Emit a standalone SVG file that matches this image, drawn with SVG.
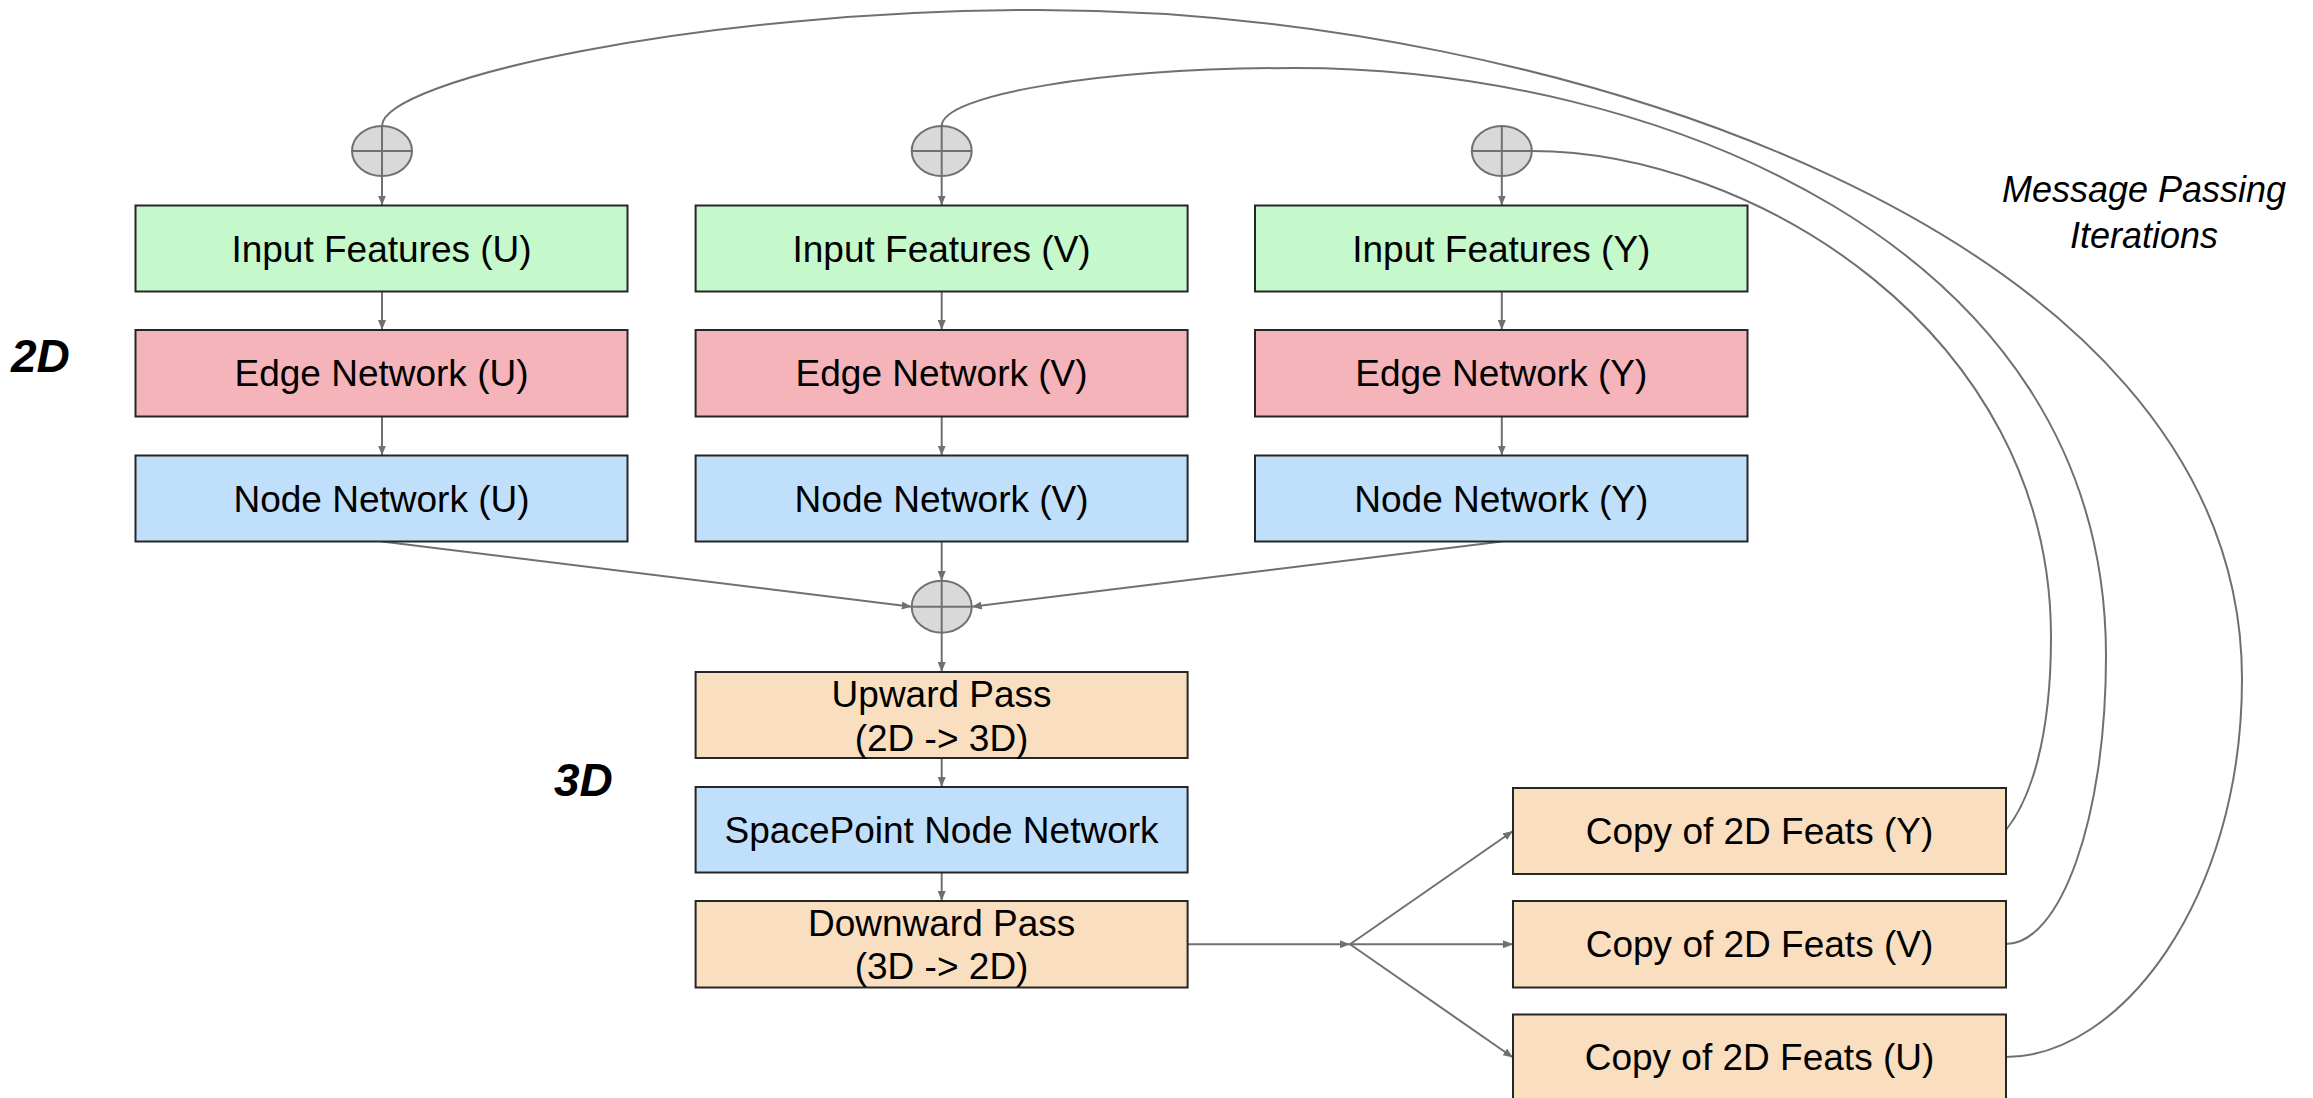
<svg xmlns="http://www.w3.org/2000/svg" width="2313" height="1098" viewBox="0 0 2313 1098">
  <style>
    .box { stroke: #262626; stroke-width: 2; }
    .in { fill: #c5f8cb; }
    .edge { fill: #f4b4b9; }
    .node { fill: #bfdffa; }
    .pass { fill: #f9dfbf; }
    .lbl { font-family: "Liberation Sans", Arial, sans-serif; font-size: 37px; fill: #000; text-anchor: middle; }
    .dim { font-family: "Liberation Sans", Arial, sans-serif; font-size: 46px; font-weight: bold; font-style: italic; fill: #000; }
    .note { font-family: "Liberation Sans", Arial, sans-serif; font-size: 36px; font-style: italic; fill: #000; text-anchor: middle; }
    .sum ellipse { fill: #d9d9d9; stroke: #707070; stroke-width: 2; }
    .sum line { stroke: #707070; stroke-width: 2; }
    .conn { fill: none; stroke: #707070; stroke-width: 2; }
  </style>
  <defs>
    <marker id="ah" viewBox="0 0 10 8" refX="10" refY="4" markerWidth="10" markerHeight="8" orient="auto" markerUnits="userSpaceOnUse">
      <path d="M0,0 L10,4 L0,8 z" fill="#707070"/>
    </marker>
  </defs>

  <rect width="2313" height="1098" fill="#ffffff"/>

  <!-- connectors -->
  <g id="connectors" class="conn">
    <!-- feedback loops from copies to the summation nodes -->
    <path d="M382,126 C382,80 700,10 1038,10 C1550,10 2242,230 2242,679 C2242,900 2120,1057 2006,1057"/>
    <path d="M941.7,126 C941.7,95 1100,68 1295,68 C1650,68 2106,240 2106,656 C2106,820 2060,944 2006,944"/>
    <path d="M1531.8,151 C1750,151 2051,330 2051,637 C2051,740 2030,800 2006,830"/>
    <!-- summation nodes into inputs -->
    <line x1="382" y1="176" x2="382" y2="205.5" marker-end="url(#ah)"/>
    <line x1="941.7" y1="176" x2="941.7" y2="205.5" marker-end="url(#ah)"/>
    <line x1="1501.8" y1="176" x2="1501.8" y2="205.5" marker-end="url(#ah)"/>
    <!-- per-view chains -->
    <line x1="382" y1="291.5" x2="382" y2="330" marker-end="url(#ah)"/>
    <line x1="941.7" y1="291.5" x2="941.7" y2="330" marker-end="url(#ah)"/>
    <line x1="1501.8" y1="291.5" x2="1501.8" y2="330" marker-end="url(#ah)"/>
    <line x1="382" y1="416.5" x2="382" y2="455.5" marker-end="url(#ah)"/>
    <line x1="941.7" y1="416.5" x2="941.7" y2="455.5" marker-end="url(#ah)"/>
    <line x1="1501.8" y1="416.5" x2="1501.8" y2="455.5" marker-end="url(#ah)"/>
    <!-- node networks into merge -->
    <line x1="382" y1="541.5" x2="911.7" y2="606.7" marker-end="url(#ah)"/>
    <line x1="941.7" y1="541.5" x2="941.7" y2="581" marker-end="url(#ah)"/>
    <line x1="1501.8" y1="541.5" x2="971.7" y2="606.7" marker-end="url(#ah)"/>
    <!-- 3D chain -->
    <line x1="941.7" y1="632.5" x2="941.7" y2="672" marker-end="url(#ah)"/>
    <line x1="941.7" y1="758" x2="941.7" y2="787" marker-end="url(#ah)"/>
    <line x1="941.7" y1="872.5" x2="941.7" y2="901" marker-end="url(#ah)"/>
    <!-- fan-out to copies -->
    <line x1="1187.6" y1="944.3" x2="1350" y2="944.3" marker-end="url(#ah)"/>
    <line x1="1350" y1="944.3" x2="1513" y2="831" marker-end="url(#ah)"/>
    <line x1="1350" y1="944.3" x2="1513" y2="944.3" marker-end="url(#ah)"/>
    <line x1="1350" y1="944.3" x2="1513" y2="1057.5" marker-end="url(#ah)"/>
  </g>

  <!-- summation nodes -->
  <g id="sum-u" class="sum">
    <ellipse cx="382" cy="151" rx="30" ry="25"/>
    <line x1="352" y1="151" x2="412" y2="151"/>
    <line x1="382" y1="126" x2="382" y2="176"/>
  </g>
  <g id="sum-v" class="sum">
    <ellipse cx="941.7" cy="151" rx="30" ry="25"/>
    <line x1="911.7" y1="151" x2="971.7" y2="151"/>
    <line x1="941.7" y1="126" x2="941.7" y2="176"/>
  </g>
  <g id="sum-y" class="sum">
    <ellipse cx="1501.8" cy="151" rx="30" ry="25"/>
    <line x1="1471.8" y1="151" x2="1531.8" y2="151"/>
    <line x1="1501.8" y1="126" x2="1501.8" y2="176"/>
  </g>
  <g id="sum-merge" class="sum">
    <ellipse cx="941.7" cy="606.7" rx="30" ry="26"/>
    <line x1="911.7" y1="606.7" x2="971.7" y2="606.7"/>
    <line x1="941.7" y1="580.7" x2="941.7" y2="632.7"/>
  </g>

  <!-- U column -->
  <g id="input-u"><rect class="box in" x="135.5" y="205.5" width="492" height="86"/><text class="lbl" x="381.5" y="261.5">Input Features (U)</text></g>
  <g id="edge-u"><rect class="box edge" x="135.5" y="330" width="492" height="86.5"/><text class="lbl" x="381.5" y="386">Edge Network (U)</text></g>
  <g id="node-u"><rect class="box node" x="135.5" y="455.5" width="492" height="86"/><text class="lbl" x="381.5" y="511.5">Node Network (U)</text></g>

  <!-- V column -->
  <g id="input-v"><rect class="box in" x="695.6" y="205.5" width="492" height="86"/><text class="lbl" x="941.6" y="261.5">Input Features (V)</text></g>
  <g id="edge-v"><rect class="box edge" x="695.6" y="330" width="492" height="86.5"/><text class="lbl" x="941.6" y="386">Edge Network (V)</text></g>
  <g id="node-v"><rect class="box node" x="695.6" y="455.5" width="492" height="86"/><text class="lbl" x="941.6" y="511.5">Node Network (V)</text></g>

  <!-- Y column -->
  <g id="input-y"><rect class="box in" x="1255" y="205.5" width="492.5" height="86"/><text class="lbl" x="1501.3" y="261.5">Input Features (Y)</text></g>
  <g id="edge-y"><rect class="box edge" x="1255" y="330" width="492.5" height="86.5"/><text class="lbl" x="1501.3" y="386">Edge Network (Y)</text></g>
  <g id="node-y"><rect class="box node" x="1255" y="455.5" width="492.5" height="86"/><text class="lbl" x="1501.3" y="511.5">Node Network (Y)</text></g>

  <!-- 3D stage -->
  <g id="upward"><rect class="box pass" x="695.6" y="672" width="492" height="86"/><text class="lbl" x="941.6" y="706.7">Upward Pass</text><text class="lbl" x="941.6" y="750.7">(2D -&gt; 3D)</text></g>
  <g id="spacepoint"><rect class="box node" x="695.6" y="787" width="492" height="85.5"/><text class="lbl" x="941.6" y="843">SpacePoint Node Network</text></g>
  <g id="downward"><rect class="box pass" x="695.6" y="901" width="492" height="86.5"/><text class="lbl" x="941.6" y="935.7">Downward Pass</text><text class="lbl" x="941.6" y="979.3">(3D -&gt; 2D)</text></g>

  <!-- copies back to 2D -->
  <g id="copy-y"><rect class="box pass" x="1513" y="788" width="493" height="86"/><text class="lbl" x="1759.5" y="843.5">Copy of 2D Feats (Y)</text></g>
  <g id="copy-v"><rect class="box pass" x="1513" y="901" width="493" height="86.5"/><text class="lbl" x="1759.5" y="956.5">Copy of 2D Feats (V)</text></g>
  <g id="copy-u"><rect class="box pass" x="1513" y="1014.5" width="493" height="86.5"/><text class="lbl" x="1759.5" y="1070">Copy of 2D Feats (U)</text></g>

  <!-- stage labels -->
  <text class="dim" x="11" y="371.7">2D</text>
  <text class="dim" x="554" y="795.7">3D</text>
  <text class="note" x="2144" y="201.7">Message Passing</text>
  <text class="note" x="2144" y="248.3">Iterations</text>
</svg>
